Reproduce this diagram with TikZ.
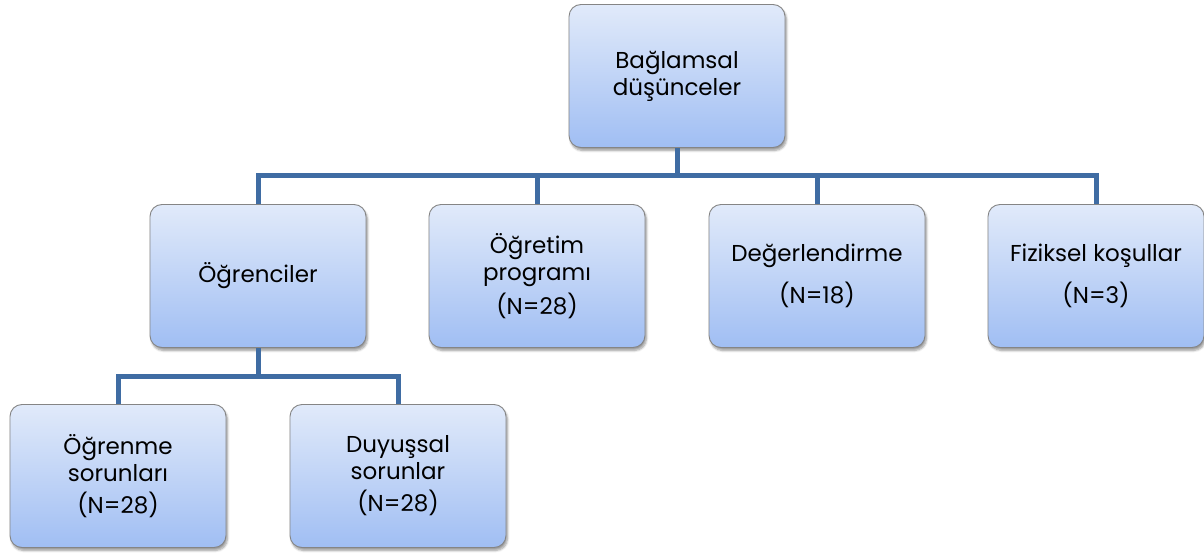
\documentclass[tikz,border=0pt]{standalone}
\usepackage{fontspec}
\setmainfont{Poppins}
\usetikzlibrary{shadows.blur}
\definecolor{connblue}{HTML}{3F6CA3}
\definecolor{boxtop}{HTML}{E1EAFA}
\definecolor{boxbot}{HTML}{A0BEF3}
\definecolor{boxline}{HTML}{858585}
\tikzset{
  box/.style={rectangle, rounded corners=12pt, draw=boxline, line width=0.9pt,
    top color=boxtop, bottom color=boxbot,
    minimum width=216pt, minimum height=143pt, align=center,
    font=\fontsize{23}{27}\selectfont,
    blur shadow={shadow xshift=1.5pt, shadow yshift=-3pt, shadow blur steps=6, shadow opacity=40}},
  conn/.style={draw=connblue, line width=5pt, line join=miter}
}
\begin{document}
\begin{tikzpicture}[x=1pt,y=-1pt]
\useasboundingbox (0,0) rectangle (1204,553);

% hierarchy boxes
\node[box] (root) at (677,76) {Bağlamsal\\düşünceler};
\node[box] (ogr)  at (258,276) {Öğrenciler};
\node[box] (prog) at (537,276) {Öğretim\\programı\\[5pt](N=28)};
\node[box] (deg)  at (817,276) {Değerlendirme\\[13pt](N=18)};
\node[box] (fiz)  at (1096,276) {Fiziksel koşullar\\[13pt](N=3)};
\node[box] (sor)  at (118,476) {Öğrenme\\sorunları\\[5pt](N=28)};
\node[box] (duy)  at (398,476) {Duyuşsal\\sorunlar\\[5pt](N=28)};

% bus lines
\coordinate (bus1) at (677,176);
\coordinate (bus2) at (258,376);

\draw[conn] (root.south) -- (bus1);
\draw[conn] (ogr.north) -- (ogr.north |- bus1) -- (fiz.north |- bus1) -- (fiz.north);
\draw[conn] (prog.north |- bus1) -- (prog.north);
\draw[conn] (deg.north |- bus1) -- (deg.north);
\draw[conn] (ogr.south) -- (bus2);
\draw[conn] (sor.north) -- (sor.north |- bus2) -- (duy.north |- bus2) -- (duy.north);
\end{tikzpicture}
\end{document}
